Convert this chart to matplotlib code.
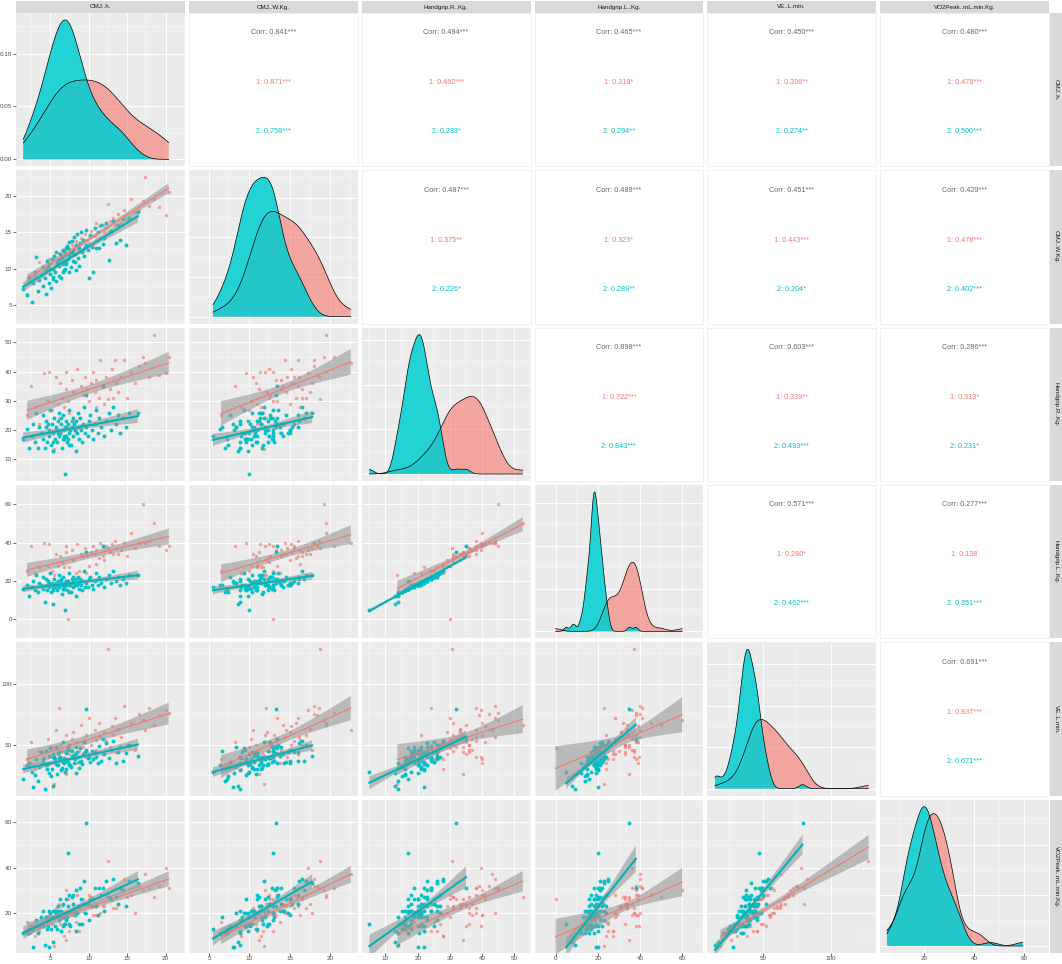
import numpy as np
import matplotlib
matplotlib.use('Agg')
import matplotlib.pyplot as plt
from matplotlib.ticker import MaxNLocator, AutoMinorLocator

# variable names (strip labels)
var_names = ['CMJ..h.', 'CMJ..W.Kg.', 'Handgrip.R..Kg.', 'Handgrip.L..Kg.',
             'VE..L.min.', 'VO2Peak..mL.min.Kg.']

# major ticks of each variable
var_ticks = [[5, 10, 15, 20], [5, 10, 15, 20], [10, 20, 30, 40, 50],
             [0, 20, 40, 60], [50, 100], [20, 40, 60]]

# correlation labels of upper panels: (row, col) -> overall, group 1, group 2
corr_pairs = [(0, 1), (0, 2), (0, 3), (0, 4), (0, 5),
              (1, 2), (1, 3), (1, 4), (1, 5),
              (2, 3), (2, 4), (2, 5),
              (3, 4), (3, 5),
              (4, 5)]
corr_all = ['0.841***', '0.494***', '0.465***', '0.450***', '0.480***',
            '0.487***', '0.489***', '0.451***', '0.429***',
            '0.898***', '0.603***', '0.286***',
            '0.571***', '0.277***',
            '0.691***']
corr_g1 = ['0.871***', '0.462***', '0.318*', '0.396**', '0.479***',
           '0.375**', '0.323*', '0.443***', '0.478***',
           '0.722***', '0.339**', '0.313*',
           '0.280*', '0.138',
           '0.837***']
corr_g2 = ['0.758***', '0.233*', '0.294**', '0.274**', '0.500***',
           '0.226*', '0.289**', '0.204*', '0.402***',
           '0.843***', '0.493***', '0.231*',
           '0.462***', '0.351***',
           '0.671***']

# group 1 (red)
red_cmj_h = [2.0, 2.5, 3.0, 3.6, 4.2, 4.7, 4.9, 5.2, 5.5, 5.8,
             6.0, 6.2, 6.3, 6.5, 6.8, 7.0, 7.1, 7.3, 7.5, 7.8,
             8.0, 8.3, 8.5, 8.8, 9.0, 9.3, 9.5, 9.7, 9.8, 10.0,
             10.3, 10.5, 10.8, 10.9, 11.0, 11.3, 11.5, 11.8, 12.0, 12.3,
             12.5, 12.8, 13.0, 13.2, 13.4, 13.6, 13.8, 14.2, 14.6, 15.0,
             15.5, 16.0, 16.5, 17.0, 17.3, 17.9, 18.5, 19.2, 20.0, 20.4]
red_cmj_w = [6.5, 8.2, 9.0, 10.9, 9.6, 10.2, 11.3, 10.0, 11.8, 10.5,
             11.0, 12.1, 10.8, 12.5, 11.5, 12.0, 11.2, 12.9, 11.7, 13.3,
             12.2, 13.8, 12.5, 13.0, 14.2, 12.6, 14.7, 13.1, 14.0, 13.5,
             15.2, 13.0, 14.5, 16.3, 14.0, 15.8, 14.4, 16.0, 15.0, 15.6,
             18.8, 16.5, 15.2, 17.0, 16.0, 15.5, 17.5, 16.2, 18.0, 16.6,
             19.5, 17.8, 18.0, 19.3, 22.6, 18.6, 19.5, 18.4, 17.3, 20.5]
red_hg_r = [25, 35, 28, 22, 39.5, 30, 40, 27, 13.7, 38,
            29, 24, 36, 31, 28, 40, 34, 30, 26, 37,
            33, 19, 41, 24, 35, 32, 38, 21, 34, 30,
            36, 40, 33, 28, 37, 31, 44, 35, 29, 38,
            30.8, 34, 41, 31, 44, 36, 33, 38, 44, 31,
            40, 36, 42, 45, 43, 38, 52.6, 39, 39.5, 45]
red_hg_l = [25, 38, 24, 27, 39.5, 28, 39, 25, 23, 34,
            28, 23, 33, 30, 27, 38, 35, 0, 27, 36,
            31, 24, 39, 25, 34, 33, 37, 24, 33, 28,
            35, 38, 34, 29, 36, 32, 40, 33, 31, 38,
            37, 35, 39, 34, 41, 37, 34, 36, 40, 33,
            45, 37, 40, 60, 40, 41, 50, 38, 36, 38]
red_ve = [38, 52, 30, 45, 40, 55, 35, 48, 18, 62,
          42, 80, 50, 45, 38, 58, 26, 47, 42, 55,
          60, 35, 52, 45, 66, 48, 40, 58, 44, 72,
          50, 38, 62, 54, 46, 68, 56, 42, 60, 53,
          128, 48, 65, 58, 72, 44, 63, 56, 82, 50,
          68, 46, 75, 70, 62, 80, 66, 74, 78, 76]
red_vo2 = [16, 14, 10, 12, 14, 18, 19, 15, 5.5, 22,
           20, 24, 15, 23, 10, 30, 8, 26, 12, 19,
           22, 16, 28, 12, 24, 26, 20, 20, 24, 28,
           27, 19, 23, 19, 24, 27, 20, 23, 23, 28,
           43, 26, 26, 22, 31, 22, 24, 31, 35, 27,
           28, 20, 32, 30, 37, 31, 27, 32, 40, 31]

# group 2 (cyan)
cyan_cmj_h = [1.5, 2.0, 2.3, 2.6, 2.8, 3.0, 3.2, 3.4, 3.6, 3.8,
              4.0, 4.1, 4.3, 4.4, 4.5, 4.6, 4.8, 4.9, 5.0, 5.1,
              5.2, 5.3, 5.4, 5.5, 5.6, 5.7, 5.8, 5.9, 6.0, 6.1,
              6.2, 6.3, 6.4, 6.5, 6.6, 6.7, 6.8, 6.9, 6.9, 7.0,
              7.1, 7.2, 7.3, 7.3, 7.4, 7.5, 7.6, 7.7, 7.8, 7.9,
              8.0, 8.1, 8.2, 8.3, 8.4, 8.5, 8.6, 8.7, 8.8, 8.9,
              9.0, 9.1, 9.2, 9.4, 9.5, 9.6, 9.7, 9.9, 10.0, 10.2,
              10.4, 10.6, 10.8, 11.0, 11.2, 11.4, 11.6, 11.8, 12.0, 12.3,
              12.6, 12.9, 13.2, 13.5, 13.8, 14.1, 14.5, 14.9, 15.3, 16.4,
              4.7, 5.3, 6.0, 6.4, 6.8, 7.1, 7.5, 7.8, 8.2, 6.6]
cyan_cmj_w = [7.2, 6.4, 8.9, 5.5, 8.0, 9.6, 11.6, 7.0, 8.4, 9.1,
              7.6, 10.2, 8.8, 6.6, 9.9, 11.0, 8.1, 10.6, 9.3, 7.4,
              11.4, 10.0, 8.6, 11.8, 9.6, 12.3, 8.3, 10.8, 11.2, 9.0,
              10.4, 12.0, 8.8, 11.6, 10.6, 12.6, 9.8, 10.0, 11.9, 12.9,
              10.9, 13.1, 12.9, 11.4, 9.5, 13.6, 12.2, 10.3, 13.8, 12.6,
              11.0, 14.3, 12.0, 9.9, 13.2, 14.8, 11.5, 12.8, 10.4, 13.5,
              15.0, 12.3, 14.0, 11.8, 13.0, 13.3, 15.3, 12.5, 8.8, 14.6,
              13.0, 9.6, 15.6, 12.9, 15.0, 12.8, 16.0, 13.4, 14.2, 16.2,
              11.2, 15.1, 16.5, 13.5, 16.0, 14.0, 16.8, 13.3, 17.0, 17.8,
              10.1, 8.9, 10.7, 11.3, 12.4, 10.6, 11.7, 12.3, 10.9, 9.5]
cyan_hg_r = [17, 20.5, 14, 18, 22, 16, 26, 14, 21, 19,
             25, 17, 14, 21, 23, 16, 20, 18, 27, 15,
             22, 19, 13, 24, 17, 20, 21, 16, 23, 18,
             26, 19, 22, 14, 20, 25, 17, 5, 21, 18,
             23, 16, 17, 22, 19, 27, 20, 15, 21, 24,
             18, 22, 20, 13, 23, 19, 26, 17, 21, 24,
             20, 16, 22, 28, 19, 32, 21, 18, 23, 25,
             20, 17, 22, 27, 19, 24, 21, 35, 18, 23,
             26, 20, 28, 22, 25, 19, 24, 21, 26, 26,
             22, 16, 19, 24, 18, 21, 15, 23, 20, 17]
cyan_hg_l = [16, 18, 12, 17, 20, 15, 23, 14, 19, 18,
             22, 16, 9, 18, 21, 15, 19, 17, 24, 14,
             19, 17, 8, 21, 17, 18, 19, 15, 20, 17,
             23, 18, 20, 13, 18, 22, 16, 5, 19, 18,
             20, 15, 20, 19, 18, 24, 18, 14, 19, 22,
             17, 20, 18, 12, 21, 18, 22, 16, 19, 21,
             18, 15, 20, 25, 17, 35, 19, 17, 21, 22,
             18, 16, 20, 24, 18, 22, 19, 38, 17, 21,
             23, 19, 25, 20, 22, 18, 21, 19, 23, 23,
             20, 15, 18, 21, 17, 20, 14, 21, 19, 16]
cyan_ve = [22, 33, 35, 28, 15, 25, 38, 20, 32, 44,
           36, 38, 14, 45, 33, 30, 27, 41, 47, 24,
           30, 42, 16, 40, 38, 34, 48, 26, 33, 39,
           44, 40, 29, 31, 36, 52, 35, 28, 38, 45,
           43, 37, 47, 36, 46, 50, 33, 32, 41, 39,
           41, 35, 38, 27, 48, 44, 40, 36, 31, 47,
           37, 34, 42, 52, 44, 79, 46, 39, 40, 36,
           45, 38, 44, 40, 35, 49, 37, 55, 42, 51,
           39, 46, 53, 35, 44, 48, 37, 43, 50, 41,
           34, 40, 43, 38, 39, 30, 33, 45, 42, 36]
cyan_vo2 = [11, 11, 11, 13, 5, 14, 17, 11, 14, 18,
            14, 21, 6, 18, 18, 13, 5, 21, 20, 13,
            18, 18, 7, 21, 14, 21, 20, 13, 23, 17,
            21, 26, 12, 18, 18, 24, 20, 15, 18, 17,
            26, 18, 46.5, 23, 20, 28, 14, 21, 21, 24,
            28, 21, 19, 12, 30, 20, 23, 23, 15, 31,
            26, 15, 24, 34, 20, 59.5, 24, 24, 17, 26,
            23, 26, 31, 23, 19, 31, 28, 31, 21, 34,
            27, 26, 35, 27, 24, 31, 30, 23, 34, 33,
            14, 21, 18, 21, 15, 19, 15, 27, 20, 14]

plt.rcParams['font.family'] = ['Liberation Sans', 'DejaVu Sans']

RED = '#F8766D'
CYAN = '#00BFC4'
PANEL_BG = '#EBEBEB'
STRIP_BG = '#D9D9D9'

red_vars = [np.array(v, float) for v in
            (red_cmj_h, red_cmj_w, red_hg_r, red_hg_l, red_ve, red_vo2)]
cyan_vars = [np.array(v, float) for v in
             (cyan_cmj_h, cyan_cmj_w, cyan_hg_r, cyan_hg_l, cyan_ve, cyan_vo2)]
all_vars = [np.concatenate([r, c]) for r, c in zip(red_vars, cyan_vars)]
nv = len(var_names)

# ggplot-like limits (5% expansion)
limits = []
for v in all_vars:
    lo, hi = v.min(), v.max()
    pad = 0.05 * (hi - lo)
    limits.append((lo - pad, hi + pad))


def bw_nrd0(x):
    sd = x.std(ddof=1)
    iqr = np.subtract(*np.percentile(x, [75, 25]))
    return 0.9 * min(sd, iqr / 1.34) * len(x) ** -0.2


def kde(x, grid):
    bw = bw_nrd0(x)
    z = (grid[:, None] - x[None, :]) / bw
    return np.exp(-0.5 * z ** 2).sum(1) / (len(x) * bw * np.sqrt(2 * np.pi))


def lm_band(x, y, xs):
    n = len(x)
    b, a = np.polyfit(x, y, 1)
    fit = a + b * xs
    s = np.sqrt(((y - (a + b * x)) ** 2).sum() / (n - 2))
    se = s * np.sqrt(1 / n + (xs - x.mean()) ** 2 / ((x - x.mean()) ** 2).sum())
    df = n - 2
    t = 1.96 + (1.96 ** 3 + 1.96) / (4 * df)
    return fit, fit - t * se, fit + t * se


def minor_of(ticks):
    step = ticks[1] - ticks[0]
    return list(np.arange(ticks[0] - step / 2, ticks[-1] + step, step))


FW, FH = 1062, 964
fig = plt.figure(figsize=(FW / 100, FH / 100), dpi=100, facecolor='white')
left, top, gap = 16, 13, 4
pw = (1049 - left - 5 * gap) / 6
ph = (953 - top - 5 * gap) / 6


def add_px(x0, y0, w, h):
    return fig.add_axes([x0 / FW, 1 - (y0 + h) / FH, w / FW, h / FH])


def grid_style(ax):
    ax.set_facecolor(PANEL_BG)
    for sp in ax.spines.values():
        sp.set_visible(False)
    ax.set_axisbelow(True)
    ax.grid(which='major', color='white', lw=0.7)
    ax.grid(which='minor', color='white', lw=0.35)
    ax.tick_params(which='both', length=0, labelbottom=False, labelleft=False)


corr_lookup = {p: k for k, p in enumerate(corr_pairs)}

for i in range(nv):
    for j in range(nv):
        x0 = left + j * (pw + gap)
        y0 = top + i * (ph + gap)
        ax = add_px(x0, y0, pw, ph)

        if i < j:
            # correlation text panel
            ax.set_facecolor('white')
            ax.set_xticks([])
            ax.set_yticks([])
            for sp in ax.spines.values():
                sp.set_color('#EEEEEE')
                sp.set_linewidth(0.6)
            k = corr_lookup[(i, j)]
            ax.text(0.5, 0.87, 'Corr: ' + corr_all[k], color='#666666', fontsize=5.2,
                    ha='center', va='center', transform=ax.transAxes)
            ax.text(0.5, 0.545, '1: ' + corr_g1[k], color=RED, fontsize=5.2,
                    ha='center', va='center', transform=ax.transAxes)
            ax.text(0.5, 0.225, '2: ' + corr_g2[k], color=CYAN, fontsize=5.2,
                    ha='center', va='center', transform=ax.transAxes)
            continue

        ax.set_xlim(limits[j])
        ax.set_xticks(var_ticks[j])
        ax.set_xticks(minor_of(var_ticks[j]), minor=True)

        if i == j:
            lo, hi = all_vars[i].min(), all_vars[i].max()
            grid = np.linspace(lo, hi, 400)
            dmax = 0
            for vals, col, alpha in ((red_vars[i], RED, 0.6), (cyan_vars[i], '#00CED1', 0.85)):
                d = kde(vals, grid)
                dmax = max(dmax, d.max())
                ax.fill_between(grid, 0, d, facecolor=col, alpha=alpha, lw=0, zorder=2)
                ax.plot(grid, d, color='black', lw=0.5, zorder=3)
            ax.set_ylim(-0.05 * dmax, 1.05 * dmax)
            if i == 0:
                ax.set_yticks([0.0, 0.05, 0.10])
                ax.set_yticks([0.025, 0.075, 0.125], minor=True)
            else:
                ax.yaxis.set_major_locator(MaxNLocator(nbins=4))
                ax.yaxis.set_minor_locator(AutoMinorLocator(2))
        else:
            ax.set_ylim(limits[i])
            ax.set_yticks(var_ticks[i])
            ax.set_yticks(minor_of(var_ticks[i]), minor=True)
            xr, yr = red_vars[j], red_vars[i]
            xc, yc = cyan_vars[j], cyan_vars[i]
            ax.scatter(xr, yr, s=6, color=RED, alpha=0.65, lw=0, zorder=2)
            ax.scatter(xc, yc, s=8, color=CYAN, alpha=0.95, lw=0, zorder=2)
            for xg, yg, col, lw in ((xr, yr, RED, 0.8), (xc, yc, '#00B3B9', 1.5)):
                xs = np.linspace(xg.min(), xg.max(), 80)
                fit, lo_b, hi_b = lm_band(xg, yg, xs)
                ax.fill_between(xs, lo_b, hi_b, facecolor='#999999', alpha=0.6, lw=0, zorder=3)
                ax.plot(xs, fit, color=col, lw=lw, zorder=4)

        grid_style(ax)
        if j == 0:
            ax.tick_params(axis='y', which='major', labelleft=True, length=2, width=0.5,
                           color='#333333', labelcolor='#4D4D4D', labelsize=4.5, pad=1)
            if i == 0:
                ax.set_yticklabels(['0.00', '0.05', '0.10'])
        if i == nv - 1:
            ax.tick_params(axis='x', which='major', labelbottom=True, length=2, width=0.5,
                           color='#333333', labelcolor='#4D4D4D', labelsize=4.5, pad=0.5)

# top strips
for j in range(nv):
    x0 = left + j * (pw + gap)
    sax = add_px(x0, 1, pw, top - 1)
    sax.set_facecolor(STRIP_BG)
    sax.set_xticks([])
    sax.set_yticks([])
    for sp in sax.spines.values():
        sp.set_visible(False)
    sax.text(0.5, 0.5, var_names[j], fontsize=4.5, color='#1A1A1A',
             ha='center', va='center', transform=sax.transAxes)

# right strips
for i in range(nv):
    y0 = top + i * (ph + gap)
    sax = add_px(1050, y0, 12, ph)
    sax.set_facecolor(STRIP_BG)
    sax.set_xticks([])
    sax.set_yticks([])
    for sp in sax.spines.values():
        sp.set_visible(False)
    sax.text(0.5, 0.5, var_names[i], fontsize=4.5, color='#1A1A1A', rotation=-90,
             ha='center', va='center', transform=sax.transAxes)

fig.savefig('out.png', dpi=100, facecolor='white')
